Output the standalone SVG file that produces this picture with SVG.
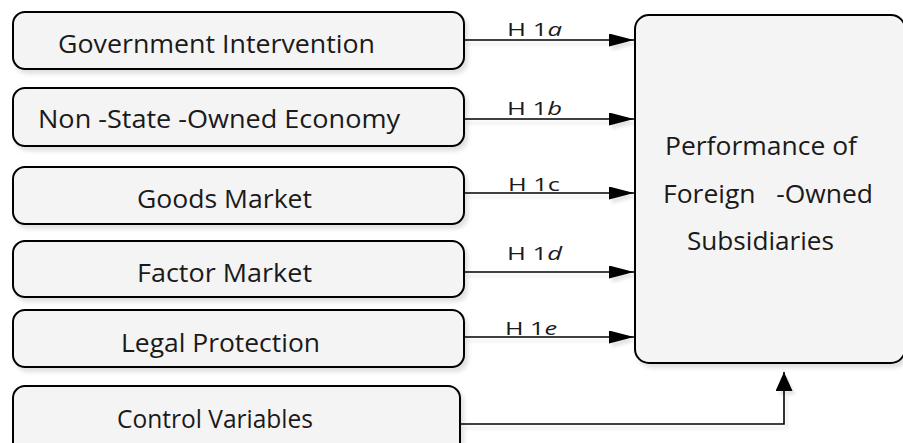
<svg xmlns="http://www.w3.org/2000/svg" width="903" height="443" viewBox="0 0 903 443">
<defs>
<style>
.box{fill:#f4f4f4;stroke:#000;stroke-width:2;filter:url(#sh)}
.t{font-family:"Open Sans","Noto Sans",sans-serif;font-size:25px;fill:#1a1a1a;white-space:pre}
.lb{font-family:"Open Sans","Noto Sans",sans-serif;font-size:19px;fill:#1a1a1a}
.c{fill:none;stroke:#000;stroke-width:1.6;filter:url(#sh2)}
</style>
<filter id="sh" filterUnits="userSpaceOnUse" x="0" y="0" width="903" height="443">
<feDropShadow dx="3" dy="4" stdDeviation="2" flood-color="#000" flood-opacity="0.12"/>
</filter>
<filter id="sh2" filterUnits="userSpaceOnUse" x="0" y="0" width="903" height="443">
<feDropShadow dx="3" dy="4" stdDeviation="1.5" flood-color="#000" flood-opacity="0.1"/>
</filter>
<marker id="ah" viewBox="0 0 25 13" refX="25" refY="6.5" markerWidth="25" markerHeight="13" markerUnits="userSpaceOnUse" orient="auto">
<path d="M0,0 L25,6.5 L0,13 Z" fill="#000"/>
</marker>
<marker id="av" viewBox="0 0 19 17" refX="19" refY="8.5" markerWidth="19" markerHeight="17" markerUnits="userSpaceOnUse" orient="auto">
<path d="M0,0 L19,8.5 L0,17 Z" fill="#000"/>
</marker>
</defs>
<g id="connectors">
<path class="c" d="M464,40 H634" marker-end="url(#ah)"/>
<path class="c" d="M464,119 H634" marker-end="url(#ah)"/>
<path class="c" d="M464,193 H634" marker-end="url(#ah)"/>
<path class="c" d="M464,272 H634" marker-end="url(#ah)"/>
<path class="c" d="M464,337 H634" marker-end="url(#ah)"/>
<path class="c" d="M461,424 H784 V372" marker-end="url(#av)"/>
<text class="lb" x="507" y="36" textLength="55" lengthAdjust="spacingAndGlyphs">H 1<tspan font-style="italic">a</tspan></text>
<text class="lb" x="507" y="115" textLength="55" lengthAdjust="spacingAndGlyphs">H 1<tspan font-style="italic">b</tspan></text>
<text class="lb" x="508" y="191" textLength="52" lengthAdjust="spacingAndGlyphs">H 1c</text>
<text class="lb" x="507" y="260" textLength="55" lengthAdjust="spacingAndGlyphs">H 1<tspan font-style="italic">d</tspan></text>
<text class="lb" x="505" y="335" textLength="52" lengthAdjust="spacingAndGlyphs">H 1<tspan font-style="italic">e</tspan></text>
</g>
<g id="n1">
<rect class="box" x="13" y="12" width="451" height="57" rx="12"/>
<text class="t" x="58" y="53" textLength="317" lengthAdjust="spacingAndGlyphs">Government Intervention</text>
</g>
<g id="n2">
<rect class="box" x="13" y="88" width="451" height="58" rx="12"/>
<text class="t" x="38" y="128" textLength="362" lengthAdjust="spacingAndGlyphs">Non -State -Owned Economy</text>
</g>
<g id="n3">
<rect class="box" x="13" y="167" width="451" height="57" rx="12"/>
<text class="t" x="137" y="208" textLength="175" lengthAdjust="spacingAndGlyphs">Goods Market</text>
</g>
<g id="n4">
<rect class="box" x="13" y="241" width="451" height="56" rx="12"/>
<text class="t" x="137" y="282" textLength="175" lengthAdjust="spacingAndGlyphs">Factor Market</text>
</g>
<g id="n5">
<rect class="box" x="13" y="310" width="451" height="57" rx="12"/>
<text class="t" x="121" y="352" textLength="199" lengthAdjust="spacingAndGlyphs">Legal Protection</text>
</g>
<g id="n6">
<rect class="box" x="13" y="386" width="447" height="70" rx="12"/>
<text class="t" x="117" y="428" textLength="196" lengthAdjust="spacingAndGlyphs">Control Variables</text>
</g>
<g id="n7">
<rect class="box" x="635" y="15" width="270" height="348" rx="14"/>
<text class="t" x="665" y="155" textLength="192" lengthAdjust="spacingAndGlyphs">Performance of</text>
<text class="t" x="663" y="203" textLength="210" lengthAdjust="spacingAndGlyphs" xml:space="preserve">Foreign   -Owned</text>
<text class="t" x="687" y="250" textLength="147" lengthAdjust="spacingAndGlyphs">Subsidiaries</text>
</g>
</svg>
